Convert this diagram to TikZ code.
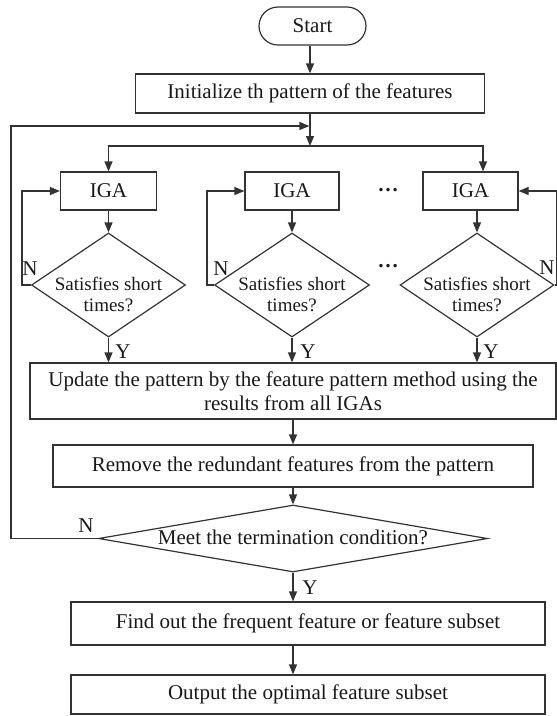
\documentclass[tikz,border=0pt]{standalone}
\usepackage{fontspec}
\setmainfont{Liberation Serif}
\usetikzlibrary{arrows.meta,shapes.geometric}
\begin{document}
\begin{tikzpicture}[x=1pt,y=-1pt,
  every node/.style={font=\fontsize{21}{24}\selectfont, text=black!90},
  line/.style={draw=black!80, line width=1.2pt},
  arr/.style={line, -{Triangle[length=10pt,width=8pt]}},
  box/.style={line, rectangle, inner sep=0pt, align=center},
  dia/.style={line, diamond, inner sep=0pt},
  dtext/.style={align=center, yshift=-9pt, font=\fontsize{19}{21}\selectfont},
  lbl/.style={inner sep=0pt}
]
\useasboundingbox (0,0) rectangle (557,716);

% nodes
\node[box, rounded corners=19pt, minimum width=107pt, minimum height=38pt] (start) at (312.5,26) {Start};
\node[box, minimum width=349pt, minimum height=39pt] (init) at (310,93.5) {Initialize th pattern of the features};
\coordinate (split) at (310,146);
\coordinate (loopin) at (310,126);

\node[box, minimum width=96pt, minimum height=38pt] (igaA) at (108.5,191) {IGA};
\node[box, minimum width=94pt, minimum height=38pt] (igaB) at (292,191) {IGA};
\node[box, minimum width=95pt, minimum height=38pt] (igaC) at (470.5,191) {IGA};
\node[lbl] (dotsA) at (388,190) {\textbf{…}};

\node[dia, minimum width=154pt, minimum height=104pt,
  label={[dtext]center:Satisfies short\\times?}] (dA) at (108.5,285) {};
\node[dia, minimum width=155pt, minimum height=104pt,
  label={[dtext]center:Satisfies short\\times?}] (dB) at (292,285) {};
\node[dia, minimum width=154pt, minimum height=104pt,
  label={[dtext]center:Satisfies short\\times?}] (dC) at (477,285) {};
\node[lbl] (dotsB) at (388,266) {\textbf{…}};

\node[box, minimum width=526pt, minimum height=56pt] (update) at (293,391)
  {Update the pattern by the feature pattern method using the\\results from all IGAs};
\node[box, minimum width=480pt, minimum height=42pt] (remove) at (293,466) {Remove the redundant features from the pattern};
\node[dia, minimum width=389pt, minimum height=67pt,
  label={[yshift=1pt]center:Meet the termination condition?}] (term) at (293,538.5) {};
\node[box, minimum width=474pt, minimum height=43pt] (find) at (308,623.5) {Find out the frequent feature or feature subset};
\node[box, minimum width=474pt, minimum height=39pt] (output) at (308,694.5) {Output the optimal feature subset};

% connectors
\draw[arr] (start.south -| init.north) -- (init.north);
\draw[arr] (init.south) -- (split);
\draw[arr] (split) -| (igaA.north);
\draw[arr] (split) -| ([xshift=12.5pt]igaC.north);

\draw[arr] (igaA.south) -- (dA.north);
\draw[arr] (igaB.south) -- (dB.north);
\draw[arr] (igaC.south -| dC.north) -- (dC.north);

\draw[arr] (dA.west) -- ++(-9,0) |- (igaA.west);
\draw[arr] (dB.west) -- ++(-7,0) |- (igaB.west);
\draw[arr] (dC.east) -- ++(2,0) |- (igaC.east);
\node[lbl] (nA) at (30,269) {N};
\node[lbl] (nB) at (221,269) {N};
\node[lbl] (nC) at (547,268) {N};

\draw[arr] (dA.south) -- (dA.south |- update.north);
\draw[arr] (dB.south) -- (dB.south |- update.north);
\draw[arr] (dC.south) -- (dC.south |- update.north);
\node[lbl] (yA) at (123,352) {Y};
\node[lbl] (yB) at (308,352) {Y};
\node[lbl] (yC) at (491,352) {Y};

\draw[arr] (update.south) -- (update.south |- remove.north);
\draw[arr] (remove.south) -- (term.north);
\draw[arr] (term.west) -- (11,538.5) |- ([xshift=-0.6pt]loopin);
\node[lbl] (nT) at (86,526) {N};
\draw[arr] (term.south) -- (term.south |- find.north);
\node[lbl] (yT) at (310,588) {Y};
\draw[arr] (find.south -| term.south) -- (output.north -| term.south);
\end{tikzpicture}
\end{document}
